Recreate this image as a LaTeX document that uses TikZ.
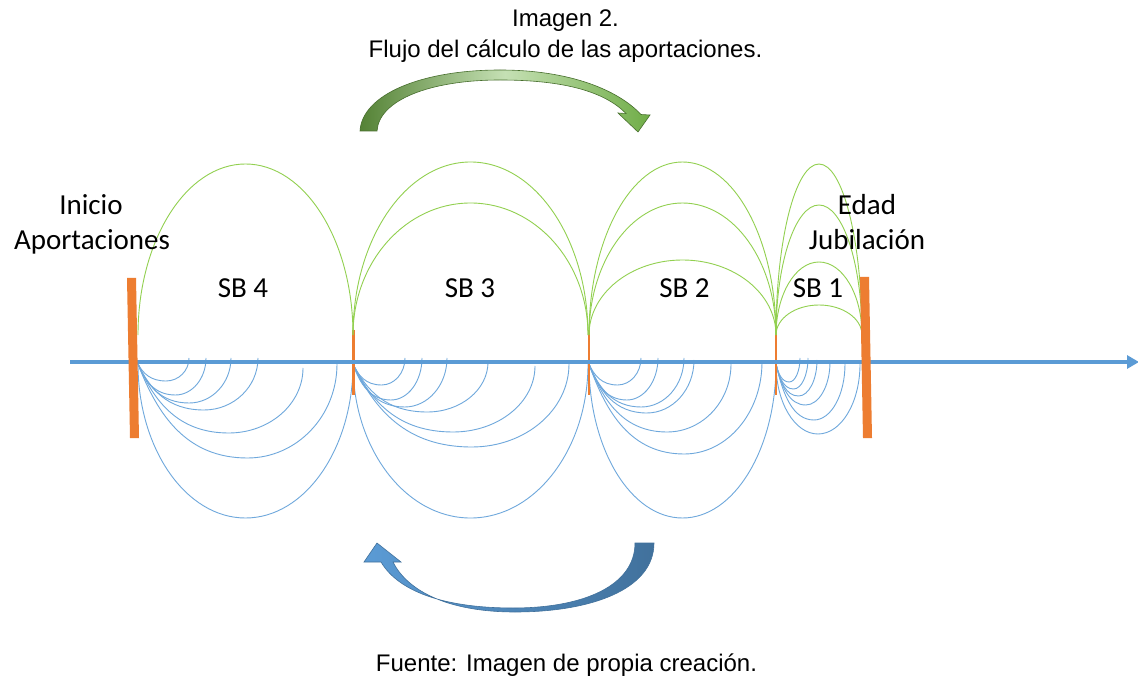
\documentclass[tikz,border=0pt]{standalone}
\usepackage{fontspec}
\setmainfont{Liberation Sans}
\newfontfamily\calib{Carlito}
\usetikzlibrary{arrows.meta}
\definecolor{axblue}{HTML}{5B9BD5}
\definecolor{arcblue}{HTML}{6FA8DC}
\definecolor{arcgreen}{HTML}{92D050}
\definecolor{orng}{HTML}{ED7D31}
\definecolor{dgreen}{HTML}{548235}
\definecolor{lgreen}{HTML}{70AD47}
\definecolor{hgreen}{HTML}{C5E0B4}
\definecolor{dblue}{HTML}{41719C}
\tikzset{
  garc/.style={draw=arcgreen, line width=0.9pt},
  barc/.style={draw=arcblue, line width=0.9pt},
  lbl/.style={font=\calib\fontsize{29}{35}\selectfont, anchor=base, inner sep=0pt},
  ttl/.style={font=\fontsize{24}{28}\selectfont, anchor=base, inner sep=0pt},
  bar/.style={fill=orng, draw=none},
  jmark/.style={draw=orng, line width=2.4pt},
}
% green half ellipse: x0 x1 top (base y=335)
\newcommand\GArc[3]{%
 \draw[garc] (#1,335) .. controls (#1,{335-0.5523*(335-#3)}) and ({(#1+#2)/2-0.27615*(#2-#1)},#3) .. ({(#1+#2)/2},#3) .. controls ({(#1+#2)/2+0.27615*(#2-#1)},#3) and (#2,{335-0.5523*(335-#3)}) .. (#2,335);}
% blue skewed arc: x0 x1 bottom yend
\newcommand\BArc[4]{%
 \draw[barc] (#1,364) .. controls ({#1+0.10*(#2-#1)},{364+0.5523*(#3-364)}) and ({#1+0.2462*(#2-#1)},#3) .. ({#1+0.55*(#2-#1)},#3) .. controls ({#1+0.7985*(#2-#1)},#3) and (#2,{#4+0.5523*(#3-#4)}) .. (#2,#4);}
% blue big symmetric half ellipse: x0 x1 bottom
\newcommand\BBig[3]{%
 \draw[barc] (#1,364) .. controls (#1,{364+0.5523*(#3-364)}) and ({(#1+#2)/2-0.27615*(#2-#1)},#3) .. ({(#1+#2)/2},#3) .. controls ({(#1+#2)/2+0.27615*(#2-#1)},#3) and (#2,{364+0.5523*(#3-364)}) .. (#2,364);}
\begin{document}
\begin{tikzpicture}[x=1pt,y=-1pt]
\fill[white] (0,0) rectangle (1138,684);
\useasboundingbox (0,0) rectangle (1138,684);

% blue arcs SB4
\BArc{138}{189}{381}{358}
\BArc{138}{206}{395}{358}
\BArc{138}{231}{403}{358}
\BArc{138}{258}{410}{358}
\BArc{138}{303}{433}{368}
\BArc{138}{337}{458}{364}
\BBig{138}{353}{518}
% SB3
\BArc{353}{405}{385}{358}
\BArc{353}{422}{400}{358}
\BArc{353}{447}{407}{358}
\BArc{353}{488}{412}{362}
\BArc{353}{535}{432}{366}
\BArc{353}{569}{447}{364}
\BBig{353}{588}{518}
% SB2
\BArc{589}{641}{385}{358}
\BArc{589}{658}{400}{358}
\BArc{589}{684}{407}{358}
\BArc{589}{694}{413}{360}
\BArc{589}{731}{432}{364}
\BArc{589}{762}{454}{362}
\BBig{589}{776}{518}
% SB1
\BArc{776}{800}{382}{358}
\BArc{776}{808}{389}{358}
\BArc{776}{817}{396}{360}
\BArc{776}{830}{405}{362}
\BArc{776}{845}{420}{364}
\BBig{776}{860}{434}

% junction marks
\draw[jmark] (353.5,330) -- (353.5,395);
\draw[jmark] (589,330) -- (589,395);
\draw[jmark] (776,330) -- (776,395);

% green arcs
\GArc{138}{353}{164}
\GArc{353}{588}{162}
\GArc{353}{588}{203}
\GArc{589}{776}{162}
\GArc{589}{776}{203}
\GArc{589}{776}{260}
\GArc{776}{862}{164}
\GArc{776}{862}{205}
\GArc{776}{862}{262}
\GArc{776}{862}{305}

% axis
\coordinate (axL) at (70,362);
\coordinate (axR) at (1139,362);
\draw[axblue, line width=4.5pt, -{Triangle[length=12pt,width=13pt]}] (axL) -- (axR);

% orange bars
\fill[bar] (127,278) -- (136,278) -- (139,438) -- (130,438) -- cycle;
\fill[bar] (860,277) -- (869,277) -- (872,438) -- (863,438) -- cycle;

% labels
\node[lbl] (ini1) at (91,215) {Inicio};
\node[lbl] (ini2) at (92,250) {Aportaciones};
\node[lbl] (ed1) at (867,215) {Edad};
\node[lbl] (ed2) at (867,250) {Jubilación};
\node[lbl] (sb4) at (243,298) {SB 4};
\node[lbl] (sb3) at (470,298) {SB 3};
\node[lbl] (sb2) at (684.5,298) {SB 2};
\node[lbl] (sb1) at (818,298) {SB 1};

% titles
\node[ttl] (t1) at (565.5,26.5) {Imagen 2.};
\node[ttl] (t2) at (565.5,58) {Flujo del cálculo de las aportaciones.};
\node[ttl] (ft) at (566.5,671) {Fuente: Imagen de propia creación.};

% green curved arrow
\path[draw=dgreen!85!black, line width=0.6pt, left color=dgreen, right color=lgreen, middle color=hgreen]
 (360,131) .. controls (362,95) and (420,70) .. (500,70)
 .. controls (570,70) and (618,90) .. (641,114.5)
 -- (650,115) -- (638,132) -- (618,113) -- (626,113.5)
 .. controls (605,92) and (565,80) .. (500,80)
 .. controls (430,80) and (379,100) .. (377,131) -- cycle;

% blue curved arrow
\path[draw=dblue, line width=0.6pt, left color=axblue, right color=dblue]
 (635,543) -- (654,543) .. controls (654,590) and (590,612) .. (515,612)
 .. controls (450,612) and (408,592) .. (393,562)
 -- (401,562) -- (377,543) -- (364,562) -- (381,562)
 .. controls (400,594) and (450,608) .. (513,608)
 .. controls (585,608) and (635,585) .. (635,543) -- cycle;
\end{tikzpicture}
\end{document}
